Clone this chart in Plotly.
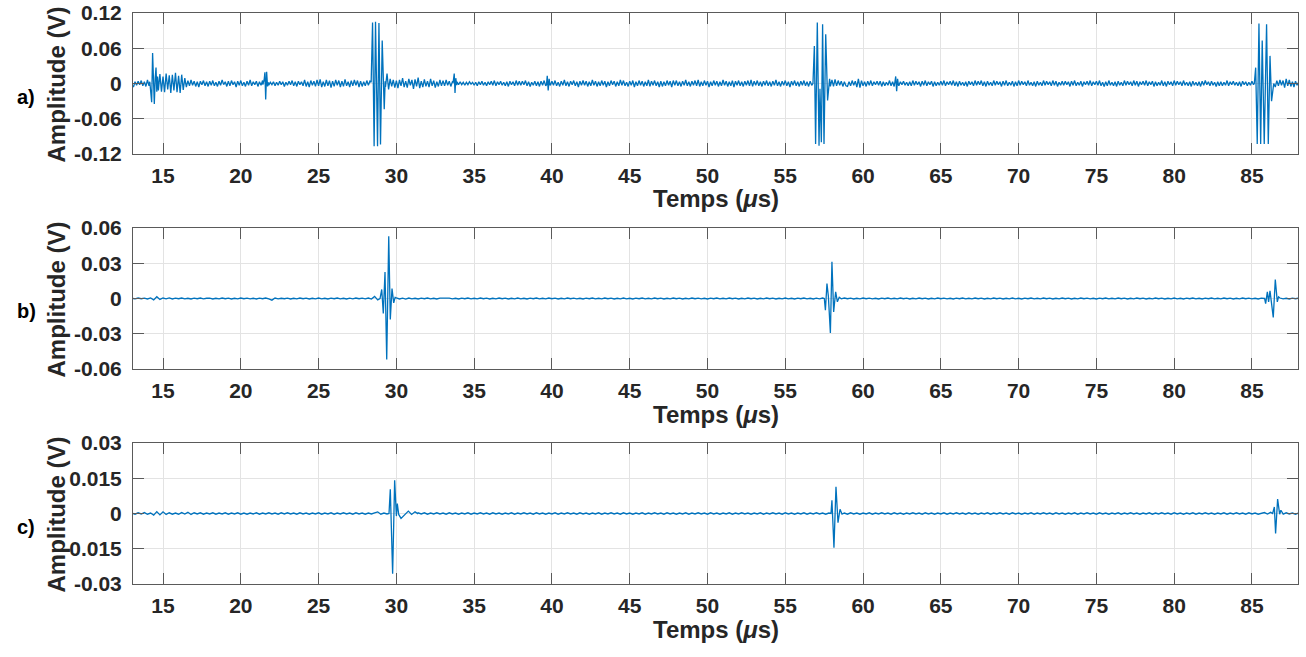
import numpy as np
import plotly.graph_objects as go

# ---------------- data ----------------
# Panel a) baseline samples, mV, every 0.1 us from 13.0 us
A_T0, A_DT, A_UNIT = 13.0, 0.1, 1e-3
A_BASE = [
    -2, -6, 3, -3, 4, -2, 5, -4, 3, -5, 6, -4, 0, 0, 0, 0, 0, -12, 16, -14,
    12, -15, 17, -10, 14, -16, 15, -12, 18, -15, 13, -16, 15, -11, 9, -6, 5, -4, 6, -3,
    4, -5, 3, -6, 4, -2, 5, -4, 3, -5,
    4, -3, 5, -4, 2, -5, 4, -3, 6, -2, 3, -5, 4, -4, 5, -2, 3, -6, 4, -3,
    5, -4, 2, -5, 4, -3, 6, -4, 3, -2, 4, -5, 3, -3, 5, 0, 0, 0, -3, 2,
    -2, 3, -4, 2, -3, 4, -2, 3, -5, 2,
    -3, 4, -2, 5, -4, 3, -5, 4, -2, 3, -4, 6, -5, 3, -6, 5, -3, 4, -5, 6,
    -4, 7, -6, 3, -5, 6, -4, 5, -7, 4, -5, 6, -3, 5, -6, 4, -5, 7, -4, 3,
    -6, 5, -4, 6, -3, 5, -6, 4, -5, 3,
    -4, 5, -3, 4, 0, 0, 0, 0, 0, 0, 0, 0, 0, -6, 17, -10, 8, -5, 6, -7,
    5, -8, 6, -4, 9, -6, 4, -7, 8, -3, 6, -9, 7, -5, 10, -8, 4, -6, 7, -5,
    4, -6, 8, -4, 5, -7, 3, -5, 6, -4,
    5, -4, 6, -3, 4, -5, 3, 0, 0, 3, -2, 3, -2, 2, -3, 2, -2, 3, -1, 2,
    -3, 2, -4, 3, -2, 4, -3, 2, -4, 3, -2, 4, -3, 5, -4, 3, -2, 4, -3, 2,
    -4, 3, -5, 4, -2, 3, -4, 5, -3, 4,
    -3, 4, -2, 5, -4, 3, -5, 2, -3, 4, -4, 3, -5, 4, -3, 5, -4, 0, 0, -3,
    4, -3, 5, -4, 2, -5, 4, -3, 6, -4, 3, -5, 4, -2, 5, -4, 3, -6, 4, -3,
    5, -3, 4, -5, 3, -4, 6, -3, 4, -5,
    3, -4, 5, -3, 4, -6, 3, -4, 5, -2, 4, -5, 3, -4, 6, -3, 5, -4, 2, -5,
    4, -3, 5, -6, 3, -4, 5, -3, 4, -5, 3, -4, 6, -5, 4, -3, 5, -4, 3, -6,
    4, -5, 3, -4, 5, -3, 4, -6, 5, -3,
    5, -4, 3, -5, 4, -3, 6, -4, 3, -5, 4, -3, 5, -4, 6, -5, 3, -4, 5, -3,
    4, -6, 3, -4, 5, -3, 4, -5, 3, -4, 6, -3, 4, -5, 3, -4, 5, -6, 4, -3,
    5, -4, 3, -5, 4, -3, 5, -4, 6, -5,
    4, -3, 5, -4, 3, -5, 4, -3, 5, -4, 3, -5, 4, -3, 6, -4, 3, -5, 4, -3,
    5, -4, 3, -6, 4, -3, 5, -4, 3, -5, 4, -3, 5, -4, 3, -5, 4, -3, 0, 0,
    0, 0, 0, 0, 0, 0, 0, 0, 0, -5,
    6, -5, 7, -4, 5, -3, 4, -5, 3, -4, -5, 3, -4, 5, -3, 4, -6, 8, -7, 5,
    -4, 3, -5, 4, -3, 5, -4, 3, -2, 4, -3, 4, -5, 3, -4, 2, -3, 5, -4, 3,
    -5, 0, 0, -4, 3, -2, 4, -3, 2, -4,
    3, -4, 5, -3, 4, -2, 3, -5, 4, -3, 5, -4, 3, -2, 4, -5, 3, -4, 2, -3,
    4, -3, 5, -4, 3, -2, 4, -3, 5, -4, 3, -5, 4, -3, 2, -4, 3, -5, 4, -2,
    3, -4, 5, -3, 4, -2, 5, -4, 3, -5,
    4, -3, 2, -4, 5, -3, 4, -2, 3, -5, 4, -3, 5, -4, 2, -3, 4, -5, 3, -4,
    5, -3, 4, -2, 3, -4, 5, -3, 2, -4, 3, -5, 4, -3, 2, -4, 5, -3, 4, -2,
    3, -4, 5, -3, 4, -5, 2, -3, 4, -3,
    4, -2, 3, -5, 4, -3, 5, -4, 2, -3, 4, -5, 3, -2, 4, -3, 5, -4, 3, -2,
    4, -3, 5, -4, 2, -5, 3, -4, 5, -3, 2, -4, 3, -5, 4, -3, 2, -4, 5, -3,
    4, -2, 3, -4, 5, -3, 4, -5, 3, -2,
    4, -3, 5, -4, 3, -2, 4, -5, 3, -4, 2, -3, 5, -4, 3, -5, 4, -2, 3, -4,
    5, -3, 4, -2, 3, -4, 5, -3, 2, -4, 3, -5, 4, -3, 2, -4, 3, -5, 4, -3,
    5, -2, 3, -4, 4, -3, 2, -5, 3, -4,
    3, -4, 2, -3, 5, -4, 3, -2, 4, -3, 2, -4, 3, -5, 4, -2, 3, -4, 2, -3,
    4, -2, 0, 0, 0, 0, 0, 0, 0, 0, 0, 0, 0, 0, 0, -6, 5, -4, 6, -3,
    5, -7, 8, -4, 6, -5, 3, -6, 4, -3,
    2,
]
# Panel a) bursts (time us, mV)
A_B1_T = [14.15, 14.22, 14.27, 14.33, 14.39, 14.44, 14.5, 14.55, 14.6, 14.65]
A_B1_V = [3, -12, -32, 52, -8, -35, 10, 27, -14, 12]
A_B2_T = [21.42, 21.5, 21.55, 21.6, 21.66, 21.72, 21.78]
A_B2_V = [-2, 6, 19, -27, 20, -5, 2]
A_B3_T = [28.38, 28.47, 28.57, 28.66, 28.79, 28.88, 28.98, 29.09, 29.22, 29.28]
A_B3_V = [2, 104, -107, 105, -107, 103, -104, 73, -44, 4]
A_B4_T = [33.65, 33.72, 33.77, 33.82, 33.88]
A_B4_V = [2, 17, -16, 9, -3]
A_B5_T = [39.65, 39.7, 39.76, 39.82, 39.87]
A_B5_V = [-2, 13, -12, 8, -2]
A_B6_T = [56.78, 56.87, 56.95, 57.06, 57.17, 57.23, 57.32, 57.4, 57.49, 57.6, 57.72, 57.85]
A_B6_V = [0, 64, -103, 104, -106, -9, -100, 101, -103, 84, -29, 8]
A_B7_T = [62.05, 62.1, 62.16, 62.22, 62.27]
A_B7_V = [3, 12, -13, 8, -2]
A_B8_T = [85.15, 85.24, 85.34, 85.45, 85.56, 85.66, 85.79, 85.94, 86.05, 86.16, 86.26, 86.37]
A_B8_V = [0, 27, -103, 102, -103, 73, -103, 101, -103, 47, -30, -7]

# Panel b) baseline samples, 0.1 mV, every 0.2 us from 13.0 us
B_T0, B_DT, B_UNIT = 13.0, 0.2, 1e-4
B_BASE = [
    2, -3, 4, -2, 3, -4, 5, -12, 15, -8, 4, -3, 5, -4, 3, -2, 4, -3, 2, -4, 3, -2, 4, -3, 2,
    3, -4, 2, -3, 4, -2, 3, -4, 2, -3, 4, -2, 3, -3, 2, -4, 3, -2, 4, -3, -14, 4, -3, 2, -2,
    3, -4, 2, -3, 4, -2, 3, -4, 2, -3, 4, -3, 2, -4, 3, -2, 4, -3, 2, -4, 3, -3, 4, -2, 3,
    -3, 4, -5, 18, -12, 0, 0, 0, 0, 0, 5, -4, 3, -5, 4, -3, 2, -4, 3, -2, 4, -3, 2, -4, 3,
    3, -2, 4, -3, 2, -4, 3, -2, 4, -3, 2, -3, 4, -2, 3, -4, 2, -3, 4, -2, 3, -4, 2, -3, 4,
    -3, 2, -4, 3, -2, 4, -3, 2, -3, 4, -2, 3, -4, 2, -3, 4, -2, 3, -3, 2, -4, 3, -2, 4, -3,
    2, -3, 4, -2, 3, -4, 2, -3, 4, -3, 2, -4, 3, -2, 4, -3, 2, -3, 4, -2, 3, -4, 2, -3, 4,
    -2, 3, -4, 2, -3, 4, -2, 3, -3, 2, -4, 3, -2, 4, -3, 2, -3, 4, -2, 3, -4, 2, -3, 4, -2,
    3, -4, 2, -3, 4, -2, 3, -4, 2, -3, 4, -3, 2, -4, 3, -2, 4, -3, 2, -4, 3, -3, 4, 0, 0,
    0, 0, 0, -3, 4, -2, 3, -4, 2, -3, 4, -2, 3, -3, 2, -4, 3, -2, 4, -3, 2, -3, 4, -2, 3,
    -4, 2, -3, 4, -2, 3, -4, 2, -3, 4, -2, 3, -3, 2, -4, 3, -2, 4, -3, 2, -3, 4, -2, 3, -4,
    2, -3, 4, -2, 3, -4, 2, -3, 4, -3, 2, -4, 3, -2, 4, -3, 2, -3, 4, -2, 3, -4, 2, -3, 4,
    -2, 3, -4, 2, -3, 4, -2, 3, -3, 2, -4, 3, -2, 4, -3, 2, -3, 4, -2, 3, -4, 2, -3, 4, -2,
    3, -4, 2, -3, 4, -2, 3, -4, 2, -3, 4, -3, 2, -4, 3, -2, 4, -3, 2, -4, 3, -2, 4, -3, 2,
    -3, 4, -2, 3, -4, 2, -3, 4, -2, 3, -3, 2, -4, 3, 0, 0, 0, 0, 0, 4, -3, 2, -4, 3, -2,
    3,
]
B_B1_T = [28.95, 29.06, 29.16, 29.27, 29.38, 29.51, 29.61, 29.72, 29.83, 29.92]
B_B1_V = [0, 7.7, -12.8, 22.6, -52, 53, -17.9, 8.5, -3.7, 1]
B_B2_T = [57.51, 57.58, 57.68, 57.77, 57.9, 58.0, 58.11, 58.24, 58.35, 58.47]
B_B2_V = [0, -10, 12.8, 2, -29.3, 31.2, -11.4, 5.7, -2.8, 1]
B_B3_T = [85.815, 85.88, 85.99, 86.07, 86.16, 86.37, 86.5, 86.63, 86.71]
B_B3_V = [0, -4.3, 5.6, -2.9, 6.5, -16.2, 16.2, -2.9, 1.4]

# Panel c) baseline samples, 0.1 mV, every 0.2 us from 13.0 us
C_T0, C_DT, C_UNIT = 13.0, 0.2, 1e-4
C_BASE = [
    2, -3, 3, -2, 4, -3, 2, -7, 8, -6, 7, -4, 3, -3, 2, -3, 4, -2, 5, -4, 3, -2, 3, -3, 2,
    -2, 3, -3, 2, -2, 3, -3, 2, -2, 3, -3, 2, -3, 2, -2, 3, -3, 2, -2, 3, -2, 2, -3, 3, -2,
    3, -2, 2, -3, 3, -2, 2, -3, 2, -2, 3, -3, 2, -2, 3, -3, 2, -2, 3, -2, 2, -3, 3, -2, 2,
    -3, 2, -2, 3, 7, -3, 2, -2, 0, 0, 0, 0, 0, 0, 0, 0, 0, 3, -2, 3, -3, 2, -2, 3, -2,
    2, -3, 3, -2, 2, -3, 2, -2, 3, -3, 2, -2, 3, -2, 2, -3, 3, -2, 2, -3, 2, -2, 3, -3, 2,
    -2, 3, -2, 2, -3, 3, -2, 2, -3, 2, -2, 3, -3, 2, -2, 3, -2, 2, -3, 3, -2, 2, -3, 2, -2,
    3, -3, 2, -2, 3, -2, 2, -3, 3, -2, 2, -3, 2, -2, 3, -3, 2, -2, 3, -2, 2, -3, 3, -2, 2,
    -3, 2, -2, 3, -3, 2, -2, 3, -2, 2, -3, 3, -2, 2, -3, 2, -2, 3, -3, 2, -2, 3, -2, 2, -3,
    2, -2, 3, -3, 2, -2, 3, -2, 2, -3, 3, -2, 2, -3, 2, -2, 3, -3, 2, -2, 3, -2, 2, -3, 2,
    0, 0, 0, 0, 2, -3, 3, -2, 2, -3, 2, -2, 3, -3, 2, -2, 3, -2, 2, -3, 3, -2, 2, -3, 2,
    -2, 3, -2, 2, -3, 3, -2, 2, -3, 2, -2, 3, -3, 2, -2, 3, -2, 2, -3, 3, -2, 2, -3, 2, -2,
    3, -3, 2, -2, 3, -2, 2, -3, 3, -2, 2, -3, 2, -2, 3, -3, 2, -2, 3, -2, 2, -3, 3, -2, 2,
    -3, 2, -2, 3, -3, 2, -2, 3, -2, 2, -3, 3, -2, 2, -3, 2, -2, 3, -3, 2, -2, 3, -2, 2, -3,
    2, -2, 3, -3, 2, -2, 3, -2, 2, -3, 3, -2, 2, -3, 2, -2, 3, -3, 2, -2, 3, -2, 2, -3, 2,
    -2, 3, -3, 2, -2, 3, -2, 2, -3, 3, -2, 2, -3, 2, 4, -2, 5, 0, 0, 0, 0, 3, -2, 2, -3,
    2,
]
C_B1_T = [29.527, 29.61, 29.76, 29.89, 30.0, 30.06, 30.15, 30.3, 30.45, 30.6, 30.77, 30.98, 31.2, 31.37]
C_B1_V = [0, 10.3, -25.6, 14.1, -1.1, 4.2, -0.4, -2.1, -1.1, -0.4, 1.0, -0.4, 0.7, 0]
C_B2_T = [57.94, 58.0, 58.13, 58.26, 58.39, 58.52, 58.65]
C_B2_V = [0, 5.6, -14.6, 11.4, -3.9, 1.8, -0.3]
C_B3_T = [86.33, 86.44, 86.52, 86.65, 86.78, 86.86, 87.01]
C_B3_V = [0, 2.8, -8.5, 6.1, -0.3, 1.4, -0.3]

X_RANGE = [13.07, 87.96]
X_TICKS = [15, 20, 25, 30, 35, 40, 45, 50, 55, 60, 65, 70, 75, 80, 85]
A_YTICKS = [-0.12, -0.06, 0, 0.06, 0.12]
A_YTEXT = ["-0.12", "-0.06", "0", "0.06", "0.12"]
B_YTICKS = [-0.06, -0.03, 0, 0.03, 0.06]
B_YTEXT = ["-0.06", "-0.03", "0", "0.03", "0.06"]
C_YTICKS = [-0.03, -0.015, 0, 0.015, 0.03]
C_YTEXT = ["-0.03", "-0.015", "0", "0.015", "0.03"]
PANEL_LABELS = ["a)", "b)", "c)"]
X_TITLE = "Temps (<i>μ</i>s)"
Y_TITLE = "Amplitude (V)"

assert len(A_BASE) == 751, len(A_BASE)
assert len(B_BASE) == 376, len(B_BASE)
assert len(C_BASE) == 376, len(C_BASE)


def build(t0, dt, base, unit, bursts):
    t = t0 + dt * np.arange(len(base))
    v = np.array(base, dtype=float) * unit
    keep = np.ones(len(t), dtype=bool)
    for bt, _ in bursts:
        keep &= ~((t >= bt[0] - 1e-9) & (t <= bt[-1] + 1e-9))
    T = np.concatenate([t[keep]] + [np.array(bt) for bt, _ in bursts])
    V = np.concatenate([v[keep]] + [np.array(bv) * 1e-3 for _, bv in bursts])
    order = np.argsort(T, kind="stable")
    return T[order], V[order]


series = [
    build(A_T0, A_DT, A_BASE, A_UNIT, [(A_B1_T, A_B1_V), (A_B2_T, A_B2_V), (A_B3_T, A_B3_V),
                                      (A_B4_T, A_B4_V), (A_B5_T, A_B5_V), (A_B6_T, A_B6_V),
                                      (A_B7_T, A_B7_V), (A_B8_T, A_B8_V)]),
    build(B_T0, B_DT, B_BASE, B_UNIT, [(B_B1_T, B_B1_V), (B_B2_T, B_B2_V), (B_B3_T, B_B3_V)]),
    build(C_T0, C_DT, C_BASE, C_UNIT, [(C_B1_T, C_B1_V), (C_B2_T, C_B2_V), (C_B3_T, C_B3_V)]),
]
yticks = [(A_YTICKS, A_YTEXT), (B_YTICKS, B_YTEXT), (C_YTICKS, C_YTEXT)]

# ---------------- layout ----------------
W, H = 1306, 657
FONT = "Liberation Sans, Arial, Helvetica, sans-serif"
TXT = "#262626"
AX = "#5a5a5a"
GRID = "#e3e3e3"
PLOT_L, PLOT_R = 133, 1298
PLOT_TOPS = [13, 228, 443]
PLOT_H = 141

fig = go.Figure()
layout = dict(width=W, height=H, autosize=False, margin=dict(l=0, r=0, t=0, b=0, pad=0),
              paper_bgcolor="white", plot_bgcolor="white", showlegend=False,
              annotations=[])

for i, (T, V) in enumerate(series):
    sfx = "" if i == 0 else str(i + 1)
    fig.add_trace(go.Scatter(x=T, y=V, mode="lines",
                             line=dict(color="#0072BD", width=1.3),
                             xaxis="x" + sfx, yaxis="y" + sfx, hoverinfo="skip"))
    top = PLOT_TOPS[i]
    bot = top + PLOT_H
    ydom = [1 - bot / H, 1 - top / H]
    common = dict(showgrid=True, gridcolor=GRID, gridwidth=1, zeroline=False,
                  showline=True, linecolor=AX, linewidth=1, mirror="ticks",
                  ticks="inside", ticklen=11, tickwidth=1, tickcolor=AX,
                  tickfont=dict(family=FONT, size=21, color=TXT, weight="bold"),
                  automargin=False, fixedrange=True)
    layout["xaxis" + sfx] = dict(common, domain=[PLOT_L / W, PLOT_R / W], range=X_RANGE,
                                 tickvals=X_TICKS, anchor="y" + sfx, ticklabelstandoff=3)
    layout["yaxis" + sfx] = dict(common, domain=ydom, range=[yticks[i][0][0], yticks[i][0][-1]],
                                 tickvals=yticks[i][0], ticktext=yticks[i][1],
                                 anchor="x" + sfx, ticklabelstandoff=6)
    mid = (top + bot) / 2
    layout["annotations"] += [
        dict(text="<b>" + Y_TITLE + "</b>", x=56 / W, y=1 - (mid + 1) / H, xref="paper", yref="paper",
             textangle=-90, showarrow=False, xanchor="center", yanchor="middle",
             font=dict(family=FONT, size=24, color=TXT)),
        dict(text="<b>" + PANEL_LABELS[i] + "</b>", x=26 / W, y=1 - (mid + 13) / H,
             xref="paper", yref="paper", showarrow=False, xanchor="center", yanchor="middle",
             font=dict(family=FONT, size=20, color="black")),
        dict(text="<b>" + X_TITLE + "</b>", x=(PLOT_L + PLOT_R) / 2 / W, y=1 - (bot + 45) / H,
             xref="paper", yref="paper", showarrow=False, xanchor="center", yanchor="middle",
             font=dict(family=FONT, size=24, color=TXT)),
    ]

fig.update_layout(**layout)
fig.write_html("out.html", config={"displayModeBar": False},
               post_script="document.body.style.margin='0px';document.body.style.overflow='hidden';")
